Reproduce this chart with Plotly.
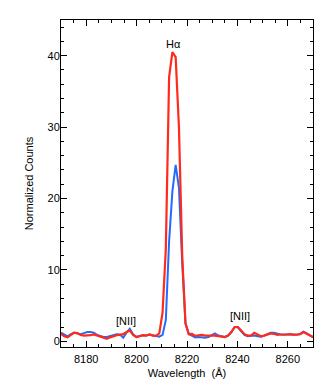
import plotly.graph_objects as go

wavelength = [
    8170.0, 8171.3, 8172.6, 8173.9, 8175.2, 8176.5, 8177.8, 8179.1, 8180.4, 8181.7,
    8183.0, 8184.3, 8185.6, 8186.9, 8188.2, 8189.5, 8190.8, 8192.1, 8193.4, 8194.7,
    8196.0, 8197.3, 8198.6, 8199.9, 8201.2, 8202.5, 8203.8, 8205.1, 8206.4, 8207.7,
    8209.0, 8210.3, 8211.6, 8212.9, 8214.2, 8215.5, 8216.8, 8218.1, 8219.4, 8220.7,
    8222.0, 8223.3, 8224.6, 8225.9, 8227.2, 8228.5, 8229.8, 8231.1, 8232.4, 8233.7,
    8235.0, 8236.3, 8237.6, 8238.9, 8240.2, 8241.5, 8242.8, 8244.1, 8245.4, 8246.7,
    8248.0, 8249.3, 8250.6, 8251.9, 8253.2, 8254.5, 8255.8, 8257.1, 8258.4, 8259.7,
    8261.0, 8262.3, 8263.6, 8264.9, 8266.2, 8267.5, 8268.8, 8270.1,
]

counts_red = [
    1.05, 0.7, 0.55, 0.9, 1.2, 1.15, 0.9, 0.8, 0.8, 0.85,
    0.95, 0.8, 0.6, 0.55, 0.35, 0.55, 0.75, 0.85, 0.9, 1.0,
    1.3, 1.5, 0.9, 0.6, 0.7, 0.85, 0.8, 0.95, 0.8, 0.75,
    1.1, 4.0, 13.0, 37.0, 40.5, 39.8, 30.0, 12.0, 2.5, 1.0,
    1.05, 0.75, 0.85, 0.9, 0.8, 0.75, 0.8, 0.8, 0.75, 0.75,
    0.6, 0.8, 1.3, 2.0, 2.0, 1.5, 1.0, 0.8, 0.8, 1.2,
    0.9, 0.7, 0.8, 0.95, 1.1, 1.05, 0.9, 0.95, 0.9, 0.95,
    1.0, 0.9, 0.95, 1.0, 1.3, 1.0, 0.8, 0.6,
]

counts_blue = [
    1.2, 0.9, 0.7, 1.0, 1.2, 1.1, 1.0, 1.15, 1.3, 1.3,
    1.2, 0.9, 0.7, 0.6, 0.6, 0.7, 0.9, 1.0, 0.95, 0.5,
    1.2, 1.75, 1.0, 0.6, 0.75, 0.85, 0.8, 0.95, 0.85, 0.7,
    0.65, 0.9, 3.0, 14.0, 21.0, 24.7, 21.5, 11.0, 2.5, 1.0,
    0.8, 0.55, 0.6, 0.5, 0.5, 0.6, 0.8, 1.1, 0.8, 0.65,
    0.6, 0.8, 1.3, 2.0, 1.95, 1.4, 0.9, 0.7, 0.8, 0.8,
    0.7, 0.65, 0.8, 1.0, 1.2, 1.2, 1.05, 0.95, 0.9, 1.0,
    1.0, 0.95, 0.9, 1.0, 1.35, 1.1, 0.85, 0.55,
]

# line labels
labels = ["H\u03b1", "[NII]", "[NII]"]
label_x = [8214.5, 8195.8, 8241.0]
label_y = [41.6, 2.9, 3.5]

font = dict(family="Liberation Sans, Arial, sans-serif", size=11, color="black")

fig = go.Figure()
fig.add_trace(go.Scatter(x=wavelength, y=counts_blue, mode="lines",
                         line=dict(color="#1f6cff", width=2), showlegend=False))
fig.add_trace(go.Scatter(x=wavelength, y=counts_red, mode="lines",
                         line=dict(color="#ff2a1a", width=2.2), showlegend=False))

for t, x, y in zip(labels, label_x, label_y):
    fig.add_annotation(x=x, y=y, text=t, showarrow=False, font=font,
                       xanchor="center", yanchor="middle")

axis_common = dict(
    showline=True, linecolor="black", linewidth=1, mirror="ticks",
    ticks="inside", ticklen=6, tickcolor="black", tickwidth=1,
    showgrid=False, zeroline=False, tickfont=font,
)

fig.update_xaxes(
    range=[8170, 8270], tickvals=[8180, 8200, 8220, 8240, 8260],
    minor=dict(ticks="inside", ticklen=3, dtick=5, tick0=8170, tickcolor="black", showgrid=False),
    title=dict(text="Wavelength  (\u00c5)", font=font, standoff=5),
    ticklabelstandoff=2,
    **axis_common,
)
fig.update_yaxes(
    range=[-0.8, 45], tickvals=[0, 10, 20, 30, 40],
    minor=dict(ticks="inside", ticklen=3, dtick=2, tick0=0, tickcolor="black", showgrid=False),
    title=dict(text="Normalized Counts", font=font, standoff=11),
    ticklabelstandoff=-2,
    **axis_common,
)

fig.update_layout(
    width=332, height=387,
    margin=dict(l=53, r=27, t=12, b=48, autoexpand=False),
    plot_bgcolor="white", paper_bgcolor="white",
    font=font,
)

fig.write_html("out.html")
